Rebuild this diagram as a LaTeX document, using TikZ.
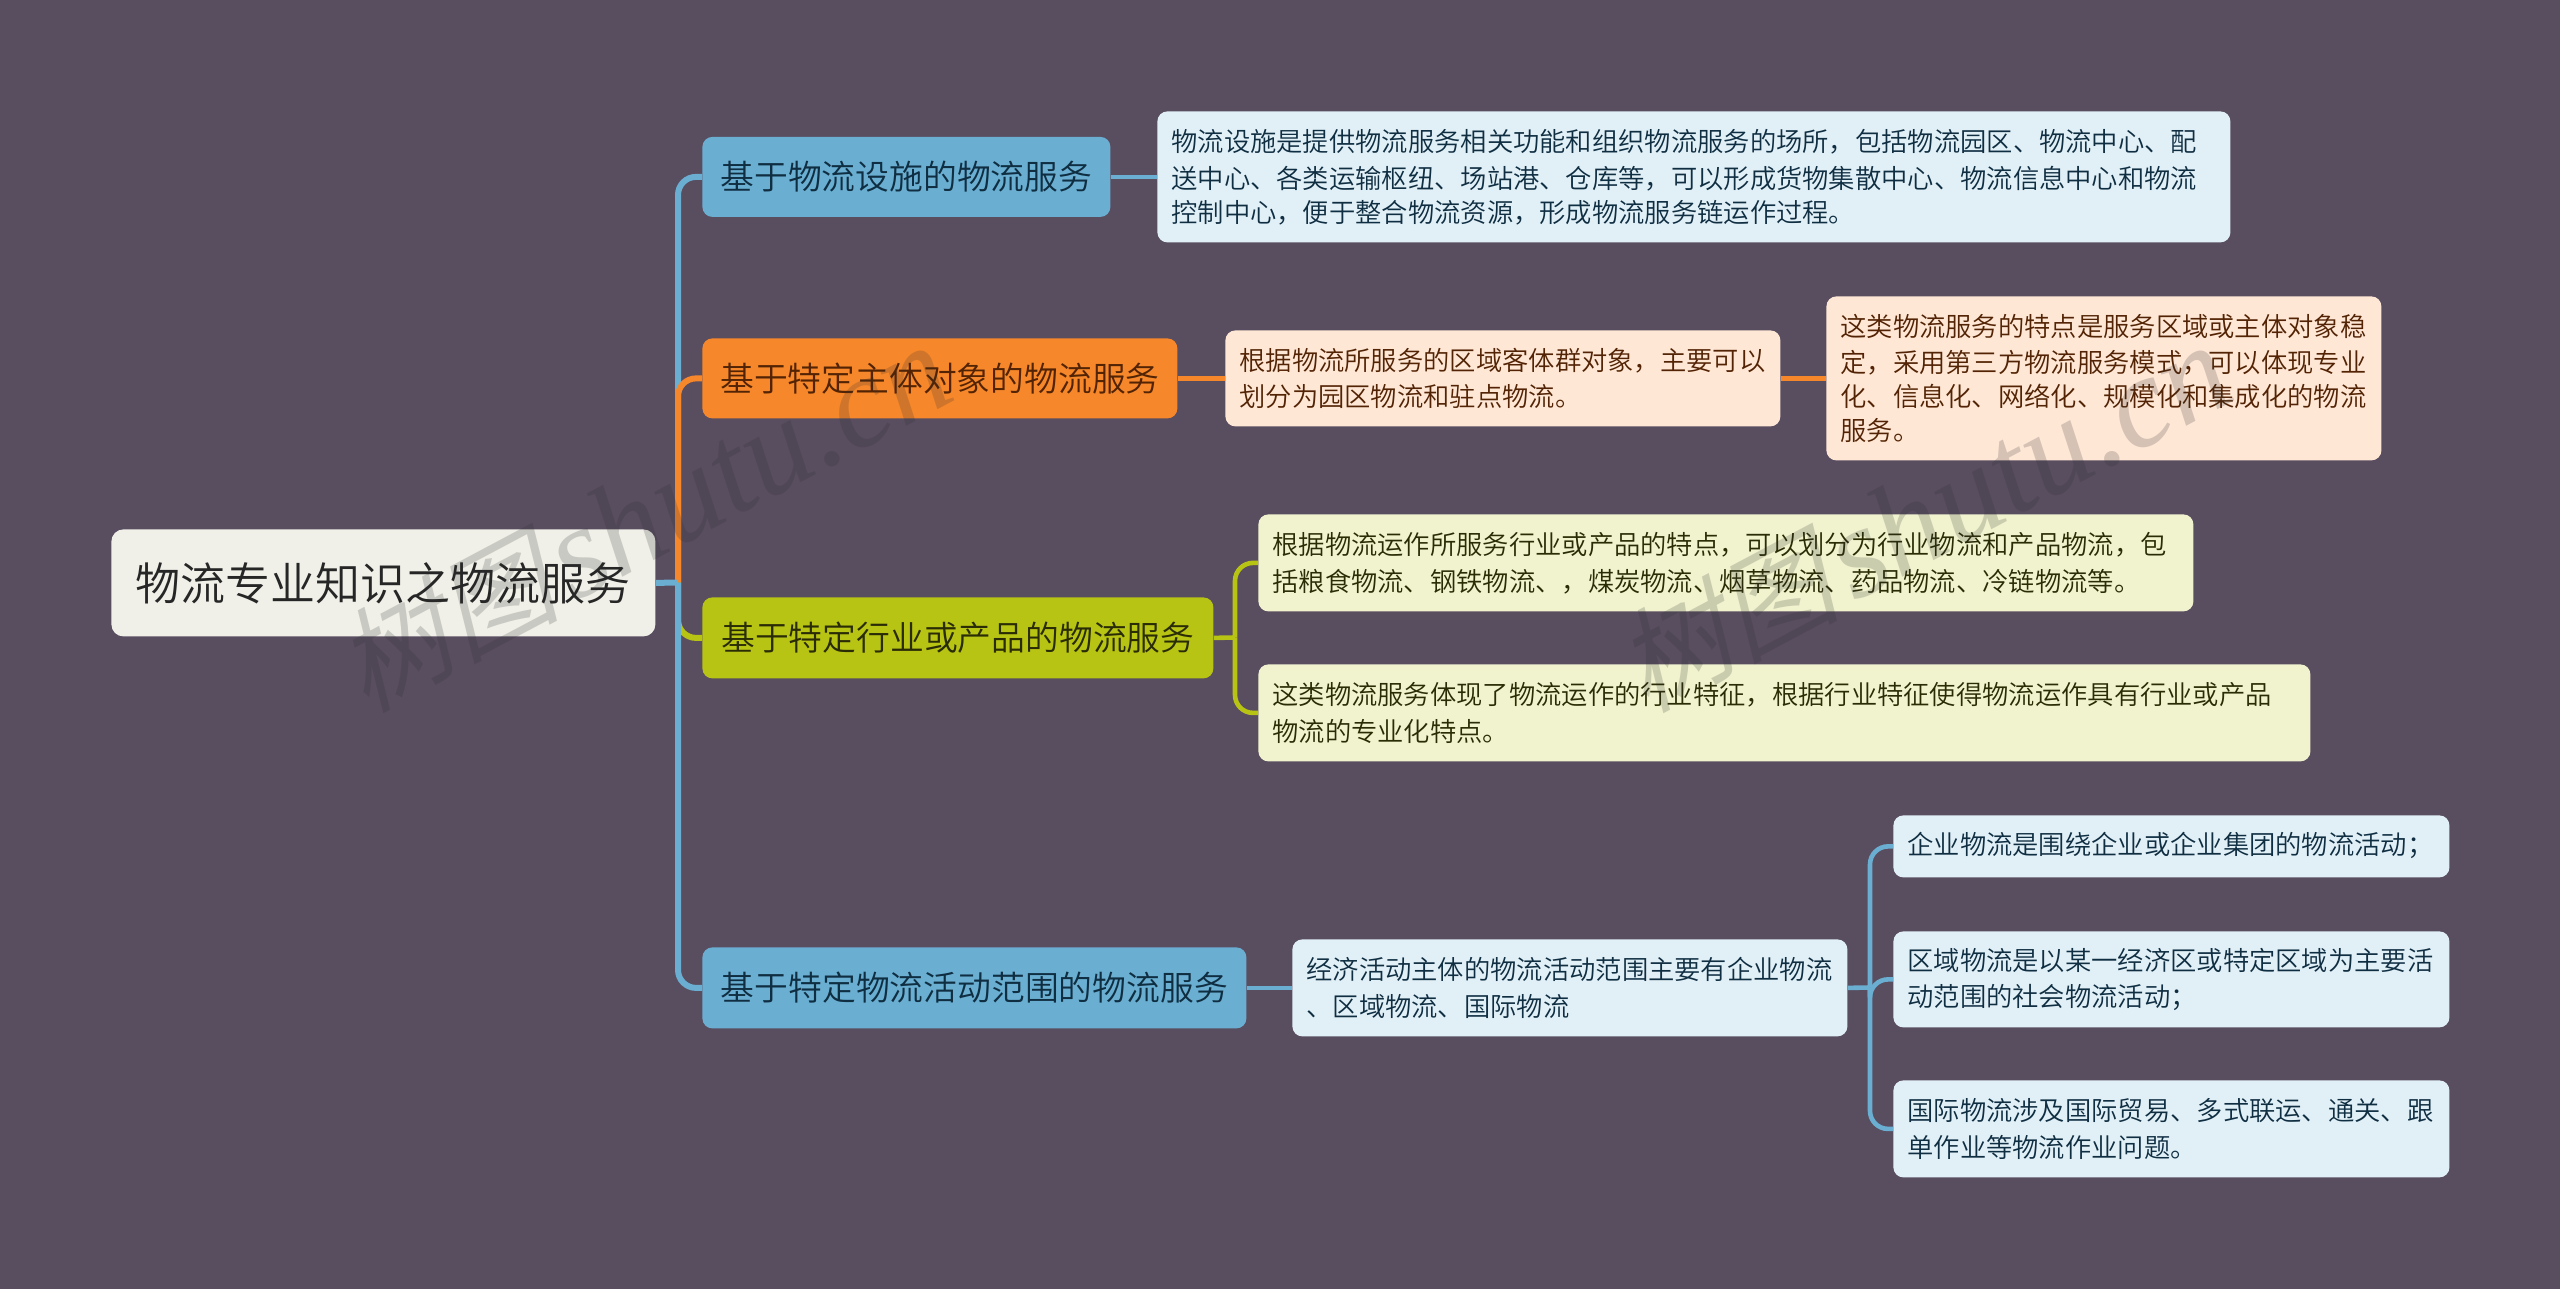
\documentclass[tikz,border=0pt]{standalone}
\usepackage{fontspec}
\setmainfont{Noto Sans CJK SC}[UprightFont=* DemiLight]
\newfontfamily\wmcjk{Noto Sans CJK SC}[FakeSlant=0.25]
\newfontfamily\wmlat{Liberation Serif}[UprightFont=* Italic]
\definecolor{bgc}{HTML}{594D60}
\definecolor{bluec}{HTML}{6AAFD2}
\definecolor{orangec}{HTML}{F6872A}
\definecolor{olivec}{HTML}{B8C414}
\definecolor{rootf}{HTML}{F0F0E8}
\definecolor{bluel}{HTML}{E1F0F7}
\definecolor{orangel}{HTML}{FFE7D5}
\definecolor{olivel}{HTML}{F1F3CE}
\definecolor{bluet}{HTML}{102E42}
\definecolor{oranget}{HTML}{522304}
\definecolor{olivet}{HTML}{2A2C06}
\definecolor{roott}{HTML}{262626}
\definecolor{wmc}{HTML}{303030}
\tikzset{
  x=0.5pt,y=-0.5pt,
  mmbox/.style 2 args={anchor=north west,inner sep=0pt,rounded corners=5pt,
    minimum width=#1*0.5pt,minimum height=#2*0.5pt},
  rootbox/.style 2 args={mmbox={#1}{#2},fill=rootf,text=roott,rounded corners=6pt,
    font=\fontsize{22.5}{28}\selectfont},
  branchbox/.style n args={4}{mmbox={#1}{#2},fill=#3,text=#4,
    font=\fontsize{16.9}{21}\selectfont},
  leafbox/.style n args={4}{mmbox={#1}{#2},fill=#3,text=#4,align=left,
    font=\fontsize{13.15}{17}\selectfont,
    /utils/exec={\pgfmathsetlengthmacro\mmtw{#1*0.5-14}},text width=\mmtw,
    execute at begin node={\vspace*{1.4pt}}},
  trunk/.style={line width=3pt,rounded corners=9pt},
  twig/.style={line width=2.3pt,rounded corners=9pt},
  wmark/.style={text=wmc,text opacity=0.2,rotate=28,inner sep=0pt}
}
\newcommand{\wmtext}{{\wmcjk\fontsize{56}{70}\selectfont 树图}\hspace{6pt}{\wmlat\fontsize{65}{70}\selectfont shutu.cn}}
\begin{document}
\begin{tikzpicture}
\useasboundingbox (0,0) rectangle (2560,1289);
\fill[bgc] (0,0) rectangle (2560,1289);
% nodes
\node[rootbox={544}{107}] (root) at (111,529) {\raisebox{0.7pt}{物流专业知识之物流服务}};
\node[branchbox={408}{80}{bluec}{bluet}] (b1) at (702,136.5) {基于物流设施的物流服务};
\node[branchbox={475}{80}{orangec}{oranget}] (b2) at (702,338) {基于特定主体对象的物流服务};
\node[branchbox={511}{81}{olivec}{olivet}] (b3) at (702,597) {基于特定行业或产品的物流服务};
\node[branchbox={544}{81}{bluec}{bluet}] (b4) at (702,947) {基于特定物流活动范围的物流服务};
\node[leafbox={1073}{131}{bluel}{bluet}] (l1) at (1157,111) {物流设施是提供物流服务相关功能和组织物流服务的场所，包括物流园区、物流中心、配\\送中心、各类运输枢纽、场站港、仓库等，可以形成货物集散中心、物流信息中心和物流\\控制中心，便于整合物流资源，形成物流服务链运作过程。};
\node[leafbox={555}{96}{orangel}{oranget}] (l2a) at (1225,330) {根据物流所服务的区域客体群对象，主要可以\\划分为园区物流和驻点物流。};
\node[leafbox={555}{164}{orangel}{oranget}] (l2b) at (1826,296) {这类物流服务的特点是服务区域或主体对象稳\\定，采用第三方物流服务模式，可以体现专业\\化、信息化、网络化、规模化和集成化的物流\\服务。};
\node[leafbox={935}{97}{olivel}{olivet}] (l3a) at (1258,514) {根据物流运作所服务行业或产品的特点，可以划分为行业物流和产品物流，包\\括粮食物流、钢铁物流、，煤炭物流、烟草物流、药品物流、冷链物流等。};
\node[leafbox={1052}{97}{olivel}{olivet}] (l3b) at (1258,664) {这类物流服务体现了物流运作的行业特征，根据行业特征使得物流运作具有行业或产品\\物流的专业化特点。};
\node[leafbox={555}{97}{bluel}{bluet}] (l4) at (1292,939) {经济活动主体的物流活动范围主要有企业物流\\、区域物流、国际物流};
\node[leafbox={556}{62}{bluel}{bluet}] (l4a) at (1893,815) {企业物流是围绕企业或企业集团的物流活动；};
\node[leafbox={556}{96}{bluel}{bluet}] (l4b) at (1893,931) {区域物流是以某一经济区或特定区域为主要活\\动范围的社会物流活动；};
\node[leafbox={556}{97}{bluel}{bluet}] (l4c) at (1893,1080) {国际物流涉及国际贸易、多式联运、通关、跟\\单作业等物流作业问题。};
% junctions
\coordinate (jr) at (678,582.5);
\coordinate (j3) at (1235,637.5);
\coordinate (j4) at (1870,987.5);
% connectors
\draw[trunk,bluec] (jr) |- (b1.west);
\draw[trunk,orangec] (jr) |- (b2.west);
\draw[trunk,olivec] (jr) |- (b3.west);
\draw[trunk,bluec] (jr) |- (b4.west);
\draw[trunk,bluec,rounded corners=0pt] (root.east) -- (jr);
\draw[twig,bluec] (b1.east) -- (l1.west);
\draw[twig,orangec] (b2.east) -- (l2a.west);
\draw[twig,orangec] (l2a.east) -- (l2b.west);
\draw[twig,olivec,rounded corners=0pt] (b3.east) -- (j3);
\draw[twig,olivec] (j3) |- (l3a.west);
\draw[twig,olivec] (j3) |- (l3b.west);
\draw[twig,bluec] (b4.east) -- (l4.west);
\draw[twig,bluec,rounded corners=0pt] (l4.east) -- (j4);
\draw[twig,bluec] (j4) |- (l4a.west);
\draw[twig,bluec] (j4) |- (l4b.west);
\draw[twig,bluec] (j4) |- (l4c.west);
% watermark
\node[wmark] (w1) at (643,518) {\wmtext};
\node[wmark] (w2) at (1923,518) {\wmtext};
\end{tikzpicture}
\end{document}
